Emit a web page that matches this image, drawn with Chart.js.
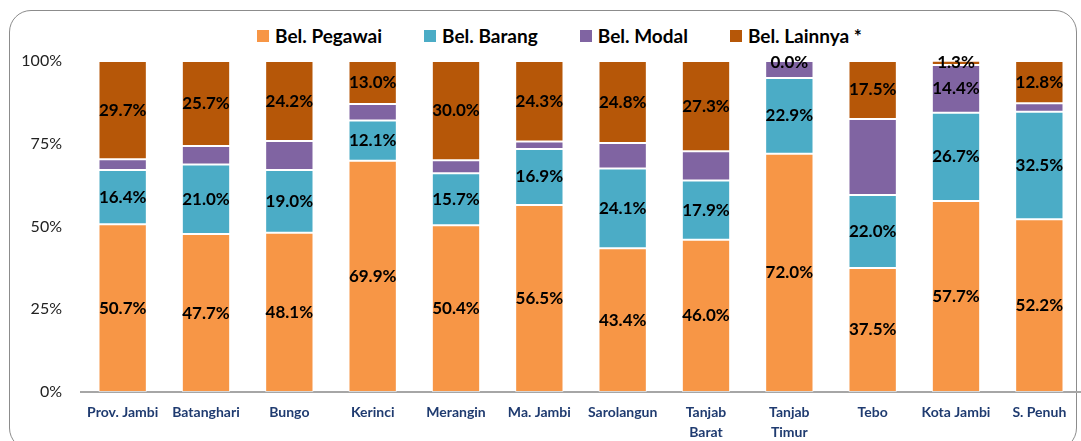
<!DOCTYPE html>
<html>
<head>
<meta charset="utf-8">
<script src="https://cdn.jsdelivr.net/npm/chart.js@4.4.1/dist/chart.umd.min.js"></script>
<style>
    html, body { margin: 0; padding: 0; background: #fff; }
    #wrap { position: relative; width: 1081px; height: 441px; overflow: hidden; font-family: Lato, "Open Sans", sans-serif; }
    #frame { position: absolute; left: 9px; top: 10px; width: 1068px; height: 440px; border: 1.5px solid #8c8c8c; border-radius: 22px; box-sizing: border-box; }
    #legend { position: absolute; left: 257px; top: 24px; display: flex; align-items: center; font-weight: bold; font-size: 19px; color: #000; }
    #legend .item { display: flex; align-items: center; margin-right: 42px; }
    #legend .box { width: 12px; height: 12px; margin-right: 6px; }
    #chartCanvas { position: absolute; left: 0; top: 0; }
</style>
</head>
<body>
<div id="wrap">
    <div id="frame"></div>
    <div id="legend"></div>
    <canvas id="chartCanvas" width="1081" height="441"></canvas>
</div>
<script>
// categories (districts)
const categories = [
    'Prov. Jambi', 'Batanghari', 'Bungo', 'Kerinci', 'Merangin', 'Ma. Jambi',
    'Sarolangun', ['Tanjab', 'Barat'], ['Tanjab', 'Timur'], 'Tebo', 'Kota Jambi', 'S. Penuh'
];

// shares of spending, in percent
const belPegawai = [50.7, 47.7, 48.1, 69.9, 50.4, 56.5, 43.4, 46.0, 72.0, 37.5, 57.7, 52.2];
const belBarang  = [16.4, 21.0, 19.0, 12.1, 15.7, 16.9, 24.1, 17.9, 22.9, 22.0, 26.7, 32.5];
const belModal   = [3.2, 5.6, 8.7, 5.0, 3.9, 2.3, 7.7, 8.8, 5.1, 23.0, 14.4, 2.5];
const belLainnya = [29.7, 25.7, 24.2, 13.0, 30.0, 24.3, 24.8, 27.3, 0.0, 17.5, 1.3, 12.8];

// only one Modal value carries a label in the original
const modalLabelShown = [false, false, false, false, false, false, false, false, false, false, true, false];

const yTicks = [0, 25, 50, 75, 100];

const seriesList = [
    { label: 'Bel. Pegawai', data: belPegawai, color: '#F79646' },
    { label: 'Bel. Barang', data: belBarang, color: '#4BACC6' },
    { label: 'Bel. Modal', data: belModal, color: '#8064A2', shown: modalLabelShown },
    { label: 'Bel. Lainnya *', data: belLainnya, color: '#B65708' },
];

// html legend
const legendEl = document.getElementById('legend');
legendEl.innerHTML = seriesList
    .map((s) => `<div class="item"><div class="box" style="background:${s.color}"></div>${s.label}</div>`)
    .join('');

// draws the % value in the middle of each segment
const segmentLabels = {
    id: 'segmentLabels',
    afterDatasetsDraw(chart) {
        const ctx = chart.ctx;
        ctx.save();
        ctx.font = 'bold 17px Lato, "Open Sans", sans-serif';
        ctx.fillStyle = '#000';
        ctx.textAlign = 'center';
        ctx.textBaseline = 'middle';
        chart.data.datasets.forEach((ds, i) => {
            const meta = chart.getDatasetMeta(i);
            meta.data.forEach((bar, j) => {
                if (ds.shown && !ds.shown[j]) return;
                const y = Math.max((bar.y + bar.base) / 2, chart.chartArea.top + 2);
                ctx.fillText(ds.data[j].toFixed(1) + '%', bar.x, y);
            });
        });
        ctx.restore();
    }
};

const ctx = document.getElementById('chartCanvas').getContext('2d');
new Chart(ctx, {
    type: 'bar',
    data: {
        labels: categories,
        datasets: seriesList.map((s) => ({
            label: s.label,
            data: s.data,
            shown: s.shown,
            backgroundColor: s.color,
            borderColor: 'rgba(255,255,255,0.55)',
            borderWidth: 1,
            borderSkipped: false,
            barPercentage: 0.58,
            categoryPercentage: 1,
            clip: 0,
        })),
    },
    options: {
        responsive: false,
        animation: false,
        layout: { padding: { top: 61, left: 0, right: 0, bottom: 0 } },
        plugins: {
            legend: { display: false },
            tooltip: { enabled: false },
        },
        scales: {
            x: {
                stacked: true,
                grid: { display: false, drawTicks: false },
                border: { display: true, color: '#a6a6a6', width: 2 },
                ticks: {
                    color: '#1F3B70',
                    font: { family: 'Lato, "Open Sans", sans-serif', size: 14, weight: 'bold', lineHeight: 1.4 },
                    padding: 11,
                    maxRotation: 0,
                    autoSkip: false,
                },
                afterFit: (scale) => { scale.height = 49; },
            },
            y: {
                stacked: true,
                min: 0,
                max: 100,
                grid: { display: false, drawTicks: false },
                border: { display: false },
                afterBuildTicks: (scale) => { scale.ticks = yTicks.map((v) => ({ value: v })); },
                ticks: {
                    color: '#222',
                    font: { family: 'Lato, "Open Sans", sans-serif', size: 16 },
                    padding: 19,
                    callback: (v) => v + '%',
                },
                afterFit: (scale) => { scale.width = 81; },
            },
        },
    },
    plugins: [segmentLabels],
});
</script>
</body>
</html>
